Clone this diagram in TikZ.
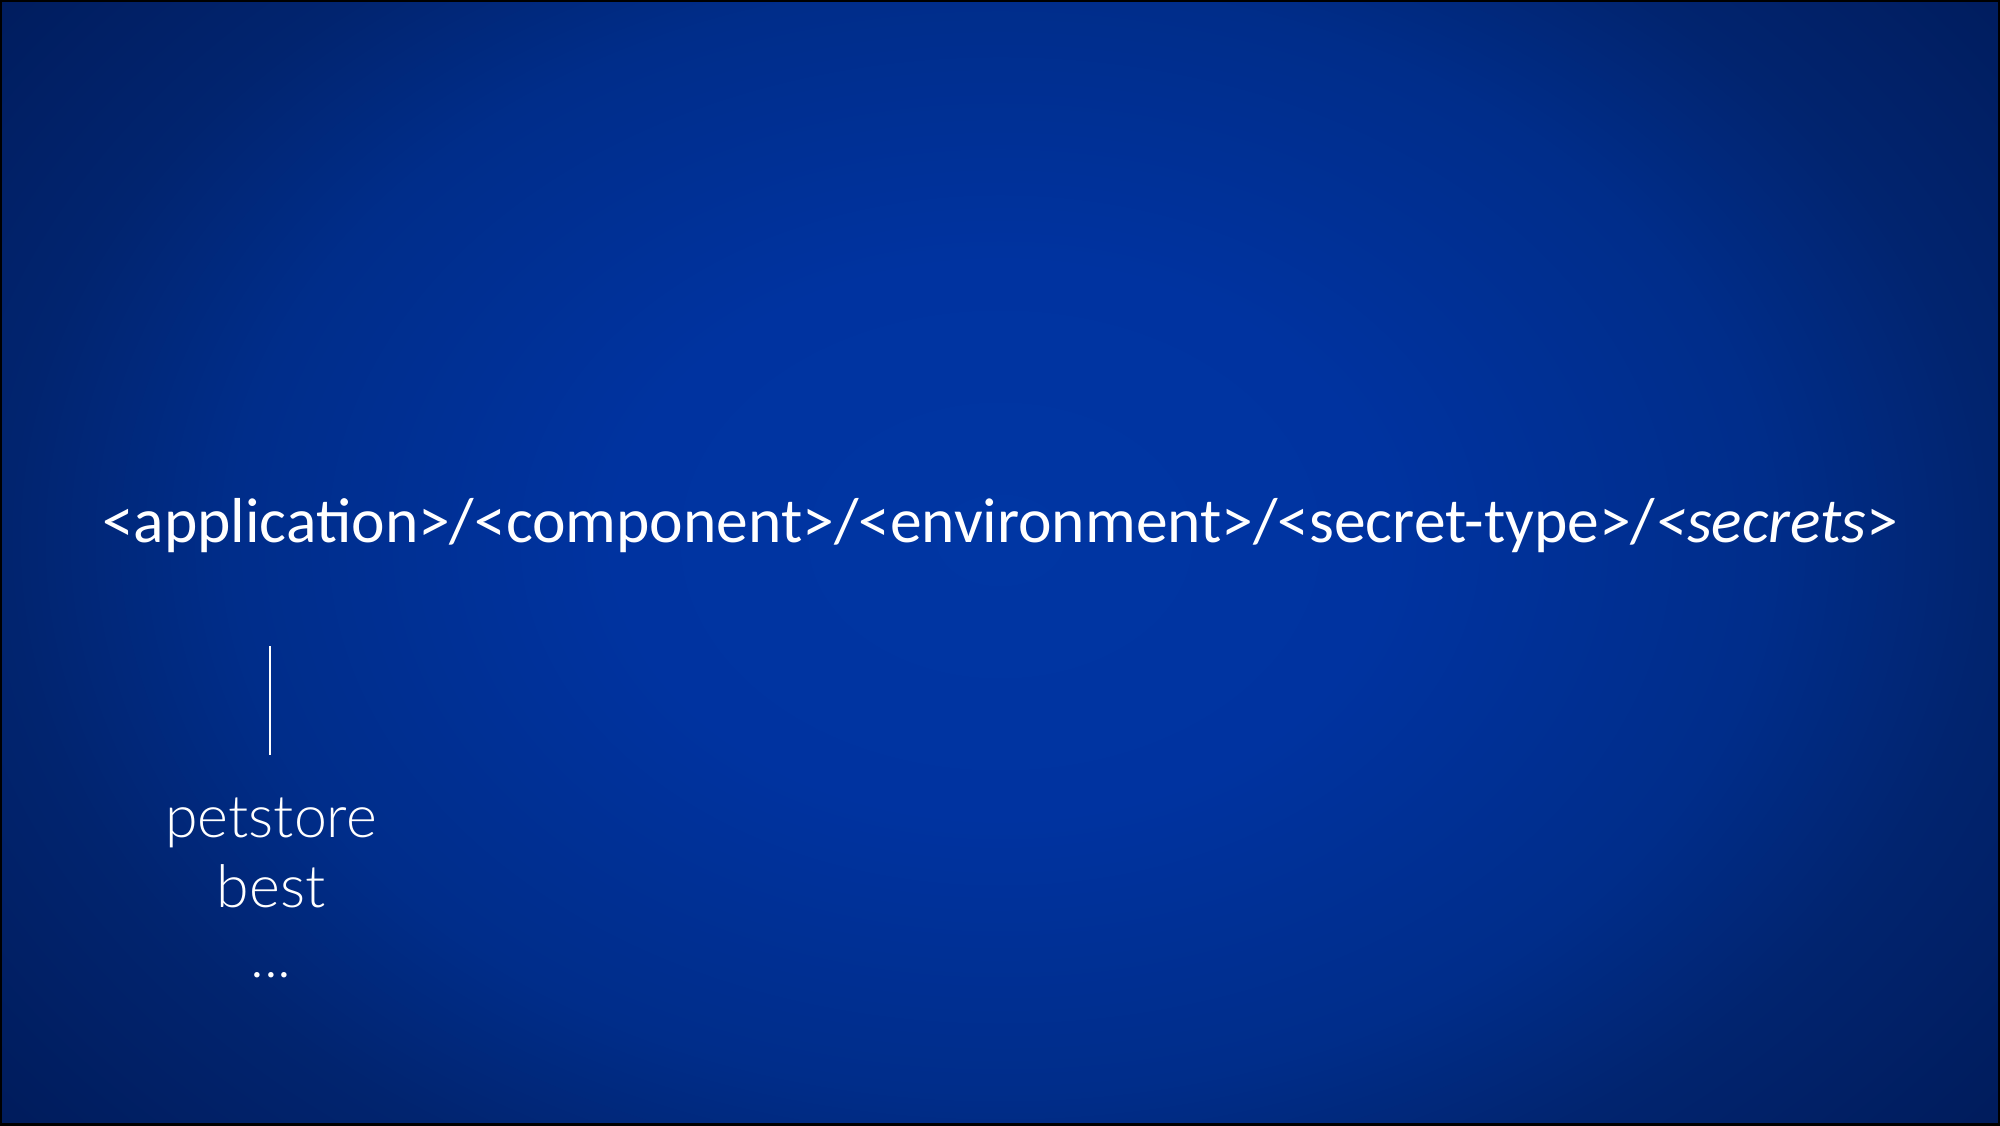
\documentclass[tikz,border=0pt]{standalone}
\usepackage{fontspec}
\setmainfont{Carlito}
\newfontfamily\lightfont{Lato Light}
\definecolor{bgA}{HTML}{0036A3}
\definecolor{bgB}{HTML}{0033A0}
\definecolor{bgC}{HTML}{002D8A}
\definecolor{bgE}{HTML}{01246F}
\definecolor{bgD}{HTML}{001A58}
\pgfdeclareradialshading{bgshade}{\pgfpoint{0bp}{0bp}}{color(0bp)=(bgA); color(6bp)=(bgB); color(12bp)=(bgC); color(15.5bp)=(bgE); color(21bp)=(bgD); color(50bp)=(bgD)}
\tikzset{
  pathtext/.style={text=white, inner sep=0pt, anchor=base, font=\fontsize{63.5}{76}\selectfont},
  valtext/.style={text=white, inner sep=0pt, anchor=base, font=\lightfont\fontsize{59}{70}\selectfont},
  thinline/.style={draw=white, line width=1.2pt}
}
\begin{document}
\begin{tikzpicture}[x=1pt,y=-1pt]
\useasboundingbox (0,0) rectangle (2000,1125);
\begin{scope}
\clip (0,0) rectangle (2000,1125);
\shade[shading=bgshade] (1000,540) ellipse (1600 and 1150);
\end{scope}
\draw[black, line width=4pt] (0,0) rectangle (2000,1125);
\node[pathtext] (path) at (1000,542) {<application>/<component>/<environment>/<secret-type>/\textit{<secrets}>};
\coordinate (lt) at (270,646);
\coordinate (lb) at (270,755);
\draw[thinline] (lt) -- (lb);
\node[valtext] (pet) at (271,837) {petstore};
\node[valtext] (best) at (271,907) {best};
\node[valtext] (dots) at (271,977) {...};
\end{tikzpicture}
\end{document}
